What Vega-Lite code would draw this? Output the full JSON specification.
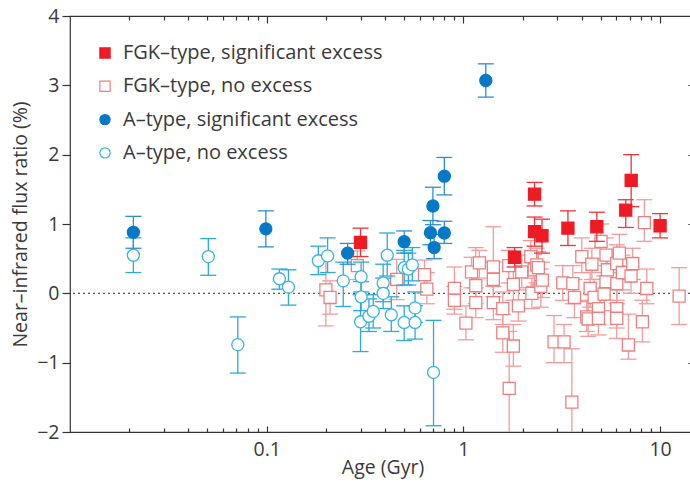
{
  "$schema": "https://vega.github.io/schema/vega-lite/v6.json",
  "autosize": {"type": "none"},
  "width": 625,
  "height": 416,
  "padding": {"left": 70, "top": 16, "right": 0, "bottom": 52},
  "background": "white",
  "config": {
    "font": "Open Sans",
    "view": {"stroke": "#333", "strokeWidth": 1.2},
    "axis": {"labelFont": "Open Sans", "titleFont": "Open Sans", "labelFontSize": 19.5, "titleFontSize": 19.5, "labelFontWeight": 400, "titleFontWeight": 400, "labelColor": "#3a3a3a", "titleColor": "#3a3a3a", "tickColor": "#333", "tickWidth": 1.2, "domain": false, "grid": false},
    "legend": {"labelFont": "Open Sans", "labelFontSize": 20, "labelFontWeight": 400, "labelColor": "#3a3a3a", "padding": 0, "symbolStrokeWidth": 1.2, "labelLimit": 0}
  },
  "data": {"values": [
    {"t":"Fn","age":0.200,"v":0.05,"lo":-0.47,"hi":0.55},
    {"t":"Fn","age":0.210,"v":-0.06,"lo":-0.30,"hi":0.18},
    {"t":"Fn","age":0.289,"v":0.40,"lo":0.20,"hi":0.61},
    {"t":"Fn","age":0.458,"v":0.20,"lo":-0.09,"hi":0.49},
    {"t":"Fn","age":0.634,"v":0.27,"lo":0.00,"hi":0.48},
    {"t":"Fn","age":0.652,"v":0.06,"lo":-0.15,"hi":0.30},
    {"t":"Fn","age":0.900,"v":0.07,"lo":-0.23,"hi":0.38},
    {"t":"Fn","age":0.900,"v":-0.10,"lo":-0.30,"hi":0.10},
    {"t":"Fn","age":1.03,"v":-0.43,"lo":-0.67,"hi":-0.18},
    {"t":"Fn","age":1.10,"v":0.31,"lo":0.08,"hi":0.52},
    {"t":"Fn","age":1.156,"v":0.11,"lo":-0.15,"hi":0.66},
    {"t":"Fn","age":1.156,"v":-0.135,"lo":-0.35,"hi":0.08},
    {"t":"Fn","age":1.206,"v":0.44,"lo":0.22,"hi":0.62},
    {"t":"Fn","age":1.42,"v":0.38,"lo":0.10,"hi":0.96},
    {"t":"Fn","age":1.42,"v":0.20,"lo":-0.05,"hi":0.45},
    {"t":"Fn","age":1.42,"v":-0.135,"lo":-0.38,"hi":0.10},
    {"t":"Fn","age":1.586,"v":-0.22,"lo":-0.45,"hi":0.02},
    {"t":"Fn","age":1.586,"v":-0.57,"lo":-0.85,"hi":-0.30},
    {"t":"Fn","age":1.71,"v":-1.37,"lo":-2.3,"hi":-0.55},
    {"t":"Fn","age":1.70,"v":0.40,"lo":0.15,"hi":0.62},
    {"t":"Fn","age":1.795,"v":0.13,"lo":-0.10,"hi":0.40},
    {"t":"Fn","age":1.795,"v":-0.76,"lo":-1.05,"hi":-0.45},
    {"t":"Fn","age":1.904,"v":-0.18,"lo":-0.40,"hi":0.05},
    {"t":"Fn","age":1.98,"v":0.31,"lo":0.08,"hi":0.55},
    {"t":"Fn","age":2.20,"v":0.53,"lo":0.30,"hi":0.76},
    {"t":"Fn","age":2.23,"v":0.00,"lo":-0.22,"hi":0.22},
    {"t":"Fn","age":2.29,"v":0.34,"lo":0.10,"hi":0.56},
    {"t":"Fn","age":2.36,"v":0.41,"lo":0.15,"hi":0.65},
    {"t":"Fn","age":2.405,"v":0.37,"lo":0.12,"hi":0.60},
    {"t":"Fn","age":2.475,"v":0.10,"lo":-0.20,"hi":0.35},
    {"t":"Fn","age":2.52,"v":0.19,"lo":-0.06,"hi":0.45},
    {"t":"Fn","age":2.89,"v":-0.70,"lo":-1.00,"hi":-0.32},
    {"t":"Fn","age":3.20,"v":0.15,"lo":-0.10,"hi":0.40},
    {"t":"Fn","age":3.25,"v":-0.70,"lo":-1.00,"hi":-0.45},
    {"t":"Fn","age":3.56,"v":-1.57,"lo":-2.3,"hi":-0.80},
    {"t":"Fn","age":3.60,"v":0.14,"lo":-0.15,"hi":0.40},
    {"t":"Fn","age":3.67,"v":-0.06,"lo":-0.35,"hi":0.20},
    {"t":"Fn","age":4.00,"v":0.53,"lo":0.30,"hi":0.80},
    {"t":"Fn","age":4.24,"v":-0.34,"lo":-0.55,"hi":-0.10},
    {"t":"Fn","age":4.31,"v":-0.37,"lo":-0.62,"hi":-0.12},
    {"t":"Fn","age":4.41,"v":0.07,"lo":-0.20,"hi":0.30},
    {"t":"Fn","age":4.50,"v":0.42,"lo":0.20,"hi":0.65},
    {"t":"Fn","age":4.62,"v":-0.06,"lo":-0.30,"hi":0.20},
    {"t":"Fn","age":4.86,"v":-0.22,"lo":-0.45,"hi":0.00},
    {"t":"Fn","age":4.86,"v":-0.36,"lo":-0.60,"hi":-0.10},
    {"t":"Fn","age":5.01,"v":0.75,"lo":0.50,"hi":1.00},
    {"t":"Fn","age":5.19,"v":-0.01,"lo":-0.25,"hi":0.25},
    {"t":"Fn","age":5.31,"v":0.55,"lo":0.30,"hi":0.80},
    {"t":"Fn","age":5.31,"v":0.17,"lo":-0.10,"hi":0.40},
    {"t":"Fn","age":5.40,"v":0.34,"lo":0.10,"hi":0.60},
    {"t":"Fn","age":6.02,"v":0.43,"lo":0.20,"hi":0.70},
    {"t":"Fn","age":6.02,"v":0.14,"lo":-0.15,"hi":0.40},
    {"t":"Fn","age":6.02,"v":-0.22,"lo":-0.50,"hi":0.05},
    {"t":"Fn","age":6.02,"v":-0.36,"lo":-0.65,"hi":-0.10},
    {"t":"Fn","age":6.21,"v":0.58,"lo":0.30,"hi":0.85},
    {"t":"Fn","age":6.43,"v":0.30,"lo":0.05,"hi":0.55},
    {"t":"Fn","age":6.90,"v":-0.745,"lo":-0.95,"hi":-0.30},
    {"t":"Fn","age":7.12,"v":0.25,"lo":0.00,"hi":0.50},
    {"t":"Fn","age":7.26,"v":0.43,"lo":0.20,"hi":0.65},
    {"t":"Fn","age":8.13,"v":-0.41,"lo":-0.70,"hi":-0.10},
    {"t":"Fn","age":8.32,"v":1.02,"lo":0.75,"hi":1.35},
    {"t":"Fn","age":8.56,"v":0.07,"lo":-0.15,"hi":0.35},
    {"t":"Fn","age":12.5,"v":-0.04,"lo":-0.45,"hi":0.37},
    {"t":"An","age":0.021,"v":0.55,"lo":0.30,"hi":0.80},
    {"t":"An","age":0.0505,"v":0.53,"lo":0.26,"hi":0.79},
    {"t":"An","age":0.0713,"v":-0.74,"lo":-1.15,"hi":-0.34},
    {"t":"An","age":0.116,"v":0.21,"lo":0.06,"hi":0.35},
    {"t":"An","age":0.129,"v":0.09,"lo":-0.17,"hi":0.34},
    {"t":"An","age":0.183,"v":0.47,"lo":0.27,"hi":0.68},
    {"t":"An","age":0.204,"v":0.54,"lo":0.30,"hi":0.80},
    {"t":"An","age":0.245,"v":0.18,"lo":-0.19,"hi":0.45},
    {"t":"An","age":0.302,"v":0.24,"lo":0.02,"hi":0.45},
    {"t":"An","age":0.302,"v":-0.05,"lo":-0.25,"hi":0.17},
    {"t":"An","age":0.300,"v":-0.41,"lo":-0.84,"hi":-0.02},
    {"t":"An","age":0.331,"v":-0.33,"lo":-0.55,"hi":-0.08},
    {"t":"An","age":0.348,"v":-0.26,"lo":-0.50,"hi":-0.02},
    {"t":"An","age":0.391,"v":0.15,"lo":-0.12,"hi":0.42},
    {"t":"An","age":0.391,"v":0.00,"lo":-0.22,"hi":0.22},
    {"t":"An","age":0.41,"v":0.55,"lo":0.25,"hi":0.87},
    {"t":"An","age":0.43,"v":-0.31,"lo":-0.55,"hi":-0.05},
    {"t":"An","age":0.50,"v":-0.42,"lo":-0.68,"hi":-0.18},
    {"t":"An","age":0.50,"v":0.37,"lo":0.12,"hi":0.62},
    {"t":"An","age":0.525,"v":0.35,"lo":0.12,"hi":0.58},
    {"t":"An","age":0.55,"v":0.41,"lo":0.18,"hi":0.66},
    {"t":"An","age":0.568,"v":-0.21,"lo":-0.42,"hi":0.02},
    {"t":"An","age":0.568,"v":-0.42,"lo":-0.66,"hi":-0.18},
    {"t":"An","age":0.705,"v":-1.14,"lo":-1.91,"hi":-0.39},
    {"t":"As","age":0.021,"v":0.88,"lo":0.65,"hi":1.11},
    {"t":"As","age":0.099,"v":0.93,"lo":0.67,"hi":1.19},
    {"t":"As","age":0.258,"v":0.58,"lo":0.42,"hi":0.72},
    {"t":"As","age":0.50,"v":0.745,"lo":0.58,"hi":0.90},
    {"t":"As","age":0.68,"v":0.875,"lo":0.70,"hi":1.05},
    {"t":"As","age":0.70,"v":1.26,"lo":0.99,"hi":1.53},
    {"t":"As","age":0.71,"v":0.66,"lo":0.50,"hi":0.85},
    {"t":"As","age":0.80,"v":1.69,"lo":1.42,"hi":1.96},
    {"t":"As","age":0.80,"v":0.87,"lo":0.72,"hi":1.04},
    {"t":"As","age":1.30,"v":3.07,"lo":2.83,"hi":3.31},
    {"t":"Fs","age":0.30,"v":0.735,"lo":0.53,"hi":0.94},
    {"t":"Fs","age":1.82,"v":0.52,"lo":0.38,"hi":0.66},
    {"t":"Fs","age":2.30,"v":1.43,"lo":1.26,"hi":1.60},
    {"t":"Fs","age":2.30,"v":0.89,"lo":0.68,"hi":1.10},
    {"t":"Fs","age":2.51,"v":0.83,"lo":0.58,"hi":1.07},
    {"t":"Fs","age":3.40,"v":0.94,"lo":0.69,"hi":1.19},
    {"t":"Fs","age":4.77,"v":0.96,"lo":0.75,"hi":1.17},
    {"t":"Fs","age":6.69,"v":1.20,"lo":0.95,"hi":1.35},
    {"t":"Fs","age":7.13,"v":1.63,"lo":1.25,"hi":2.00},
    {"t":"Fs","age":10.0,"v":0.975,"lo":0.80,"hi":1.15}
  ]},
  "resolve": {"axis": {"x": "independent", "y": "independent"}},
  "layer": [
    {
      "data": {"values": [{"z": 0}]},
      "mark": {"type": "rule", "strokeDash": [2, 3], "color": "#555", "strokeWidth": 1.3},
      "encoding": {"y": {"field": "z", "type": "quantitative", "scale": {"domain": [-2, 4], "nice": false, "zero": false}, "axis": null}}
    },
    {
      "transform": [{"filter": "datum.t == 'Fn'"}],
      "mark": {"type": "rule", "color": "#f29c9c", "strokeWidth": 1.3, "clip": true},
      "encoding": {
        "x": {"field": "age", "type": "quantitative", "scale": {"type": "log", "domain": [0.01, 15.05], "nice": false}, "axis": {"orient": "bottom", "values": [0.1, 1, 10], "format": "~g", "ticks": false, "labelPadding": 8, "title": "Age (Gyr)", "titlePadding": 0}},
        "y": {"field": "lo", "type": "quantitative", "scale": {"domain": [-2, 4], "nice": false, "zero": false}, "axis": {"orient": "left", "values": [-2, -1, 0, 1, 2, 3, 4], "format": "d", "tickSize": 8, "labelPadding": 3, "title": "Near–infrared flux ratio (%)", "titlePadding": 6}},
        "y2": {"field": "hi"}
      }
    },
    {
      "transform": [{"filter": "datum.t == 'Fn'"}],
      "mark": {"type": "tick", "orient": "horizontal", "color": "#f29c9c", "size": 16, "thickness": 1.3, "opacity": 1, "clip": true},
      "encoding": {
        "x": {"field": "age", "type": "quantitative", "scale": {"type": "log", "domain": [0.01, 15.05], "nice": false}, "axis": {"orient": "top", "offset": -7, "tickSize": 7, "labels": false, "title": null, "values": [0.1, 1, 10]}},
        "y": {"field": "lo", "type": "quantitative", "scale": {"domain": [-2, 4], "nice": false, "zero": false}, "axis": {"orient": "right", "offset": -7, "tickSize": 7, "labels": false, "title": null, "values": [-2, -1, 0, 1, 2, 3, 4]}}
      }
    },
    {
      "transform": [{"filter": "datum.t == 'Fn'"}],
      "mark": {"type": "tick", "orient": "horizontal", "color": "#f29c9c", "size": 16, "thickness": 1.3, "opacity": 1, "clip": true},
      "encoding": {
        "x": {"field": "age", "type": "quantitative", "scale": {"type": "log", "domain": [0.01, 15.05], "nice": false}, "axis": {"orient": "bottom", "offset": -6, "tickSize": 6, "labels": false, "title": null, "values": [0.1, 1, 10]}},
        "y": {"field": "hi", "type": "quantitative", "scale": {"domain": [-2, 4], "nice": false, "zero": false}, "axis": null}
      }
    },
    {
      "transform": [{"filter": "datum.t == 'Fn'"}],
      "mark": {"type": "point", "size": 145, "strokeWidth": 1.3, "opacity": 1, "fillOpacity": 1},
      "encoding": {
        "x": {"field": "age", "type": "quantitative", "scale": {"type": "log", "domain": [0.01, 15.05], "nice": false}, "axis": {"orient": "bottom", "offset": -4, "tickSize": 4, "labels": false, "title": null, "values": [0.02, 0.03, 0.04, 0.05, 0.06, 0.07, 0.08, 0.09, 0.2, 0.3, 0.4, 0.5, 0.6, 0.7, 0.8, 0.9, 2, 3, 4, 5, 6, 7, 8, 9]}},
        "y": {"field": "v", "type": "quantitative", "scale": {"domain": [-2, 4], "nice": false, "zero": false}, "axis": null},
        "fill": {"field": "t", "type": "nominal", "scale": {"domain": ["Fs", "Fn", "As", "An"], "range": ["#ed1c24", "#ffffff", "#0579c6", "#ffffff"]}, "legend": {"title": null, "orient": "none", "legendX": 25, "legendY": 27, "rowPadding": 13.3, "labelOffset": 8, "symbolSize": 105, "labelExpr": "datum.label == 'Fs' ? 'FGK–type, significant excess' : datum.label == 'Fn' ? 'FGK–type, no excess' : datum.label == 'As' ? 'A–type, significant excess' : 'A–type, no excess'"}},
        "stroke": {"field": "t", "type": "nominal", "scale": {"domain": ["Fs", "Fn", "As", "An"], "range": ["#ed1c24", "#ef7f7f", "#0579c6", "#36b2e8"]}, "legend": {"title": null, "orient": "none", "legendX": 25, "legendY": 27, "rowPadding": 13.3, "labelOffset": 8, "symbolSize": 105, "labelExpr": "datum.label == 'Fs' ? 'FGK–type, significant excess' : datum.label == 'Fn' ? 'FGK–type, no excess' : datum.label == 'As' ? 'A–type, significant excess' : 'A–type, no excess'"}},
        "shape": {"field": "t", "type": "nominal", "scale": {"domain": ["Fs", "Fn", "As", "An"], "range": ["square", "square", "circle", "circle"]}, "legend": {"title": null, "orient": "none", "legendX": 25, "legendY": 27, "rowPadding": 13.3, "labelOffset": 8, "symbolSize": 105, "labelExpr": "datum.label == 'Fs' ? 'FGK–type, significant excess' : datum.label == 'Fn' ? 'FGK–type, no excess' : datum.label == 'As' ? 'A–type, significant excess' : 'A–type, no excess'"}}
      }
    },
    {
      "transform": [{"filter": "datum.t == 'An'"}],
      "mark": {"type": "rule", "color": "#2aa9e2", "strokeWidth": 1.3, "clip": true},
      "encoding": {
        "x": {"field": "age", "type": "quantitative", "scale": {"type": "log", "domain": [0.01, 15.05], "nice": false}, "axis": {"orient": "top", "offset": -4, "tickSize": 4, "labels": false, "title": null, "values": [0.02, 0.03, 0.04, 0.05, 0.06, 0.07, 0.08, 0.09, 0.2, 0.3, 0.4, 0.5, 0.6, 0.7, 0.8, 0.9, 2, 3, 4, 5, 6, 7, 8, 9]}},
        "y": {"field": "lo", "type": "quantitative", "scale": {"domain": [-2, 4], "nice": false, "zero": false}, "axis": null},
        "y2": {"field": "hi"}
      }
    },
    {
      "transform": [{"filter": "datum.t == 'An'"}],
      "mark": {"type": "tick", "orient": "horizontal", "color": "#2aa9e2", "size": 16, "thickness": 1.3, "opacity": 1, "clip": true},
      "encoding": {
        "x": {"field": "age", "type": "quantitative", "scale": {"type": "log", "domain": [0.01, 15.05], "nice": false}, "axis": null},
        "y": {"field": "lo", "type": "quantitative", "scale": {"domain": [-2, 4], "nice": false, "zero": false}, "axis": null}
      }
    },
    {
      "transform": [{"filter": "datum.t == 'An'"}],
      "mark": {"type": "tick", "orient": "horizontal", "color": "#2aa9e2", "size": 16, "thickness": 1.3, "opacity": 1, "clip": true},
      "encoding": {
        "x": {"field": "age", "type": "quantitative", "scale": {"type": "log", "domain": [0.01, 15.05], "nice": false}, "axis": null},
        "y": {"field": "hi", "type": "quantitative", "scale": {"domain": [-2, 4], "nice": false, "zero": false}, "axis": null}
      }
    },
    {
      "transform": [{"filter": "datum.t == 'An'"}],
      "mark": {"type": "point", "size": 145, "strokeWidth": 1.3, "opacity": 1, "fillOpacity": 1},
      "encoding": {
        "x": {"field": "age", "type": "quantitative", "scale": {"type": "log", "domain": [0.01, 15.05], "nice": false}, "axis": null},
        "y": {"field": "v", "type": "quantitative", "scale": {"domain": [-2, 4], "nice": false, "zero": false}, "axis": null},
        "fill": {"field": "t", "type": "nominal"},
        "stroke": {"field": "t", "type": "nominal"},
        "shape": {"field": "t", "type": "nominal"}
      }
    },
    {
      "transform": [{"filter": "datum.t == 'As'"}],
      "mark": {"type": "rule", "color": "#2b8fd2", "strokeWidth": 1.3, "clip": true},
      "encoding": {
        "x": {"field": "age", "type": "quantitative", "scale": {"type": "log", "domain": [0.01, 15.05], "nice": false}, "axis": null},
        "y": {"field": "lo", "type": "quantitative", "scale": {"domain": [-2, 4], "nice": false, "zero": false}, "axis": null},
        "y2": {"field": "hi"}
      }
    },
    {
      "transform": [{"filter": "datum.t == 'As'"}],
      "mark": {"type": "tick", "orient": "horizontal", "color": "#2b8fd2", "size": 16, "thickness": 1.3, "opacity": 1, "clip": true},
      "encoding": {
        "x": {"field": "age", "type": "quantitative", "scale": {"type": "log", "domain": [0.01, 15.05], "nice": false}, "axis": null},
        "y": {"field": "lo", "type": "quantitative", "scale": {"domain": [-2, 4], "nice": false, "zero": false}, "axis": null}
      }
    },
    {
      "transform": [{"filter": "datum.t == 'As'"}],
      "mark": {"type": "tick", "orient": "horizontal", "color": "#2b8fd2", "size": 16, "thickness": 1.3, "opacity": 1, "clip": true},
      "encoding": {
        "x": {"field": "age", "type": "quantitative", "scale": {"type": "log", "domain": [0.01, 15.05], "nice": false}, "axis": null},
        "y": {"field": "hi", "type": "quantitative", "scale": {"domain": [-2, 4], "nice": false, "zero": false}, "axis": null}
      }
    },
    {
      "transform": [{"filter": "datum.t == 'As'"}],
      "mark": {"type": "point", "size": 145, "strokeWidth": 1.3, "opacity": 1, "fillOpacity": 1},
      "encoding": {
        "x": {"field": "age", "type": "quantitative", "scale": {"type": "log", "domain": [0.01, 15.05], "nice": false}, "axis": null},
        "y": {"field": "v", "type": "quantitative", "scale": {"domain": [-2, 4], "nice": false, "zero": false}, "axis": null},
        "fill": {"field": "t", "type": "nominal"},
        "stroke": {"field": "t", "type": "nominal"},
        "shape": {"field": "t", "type": "nominal"}
      }
    },
    {
      "transform": [{"filter": "datum.t == 'Fs'"}],
      "mark": {"type": "rule", "color": "#ee3439", "strokeWidth": 1.3, "clip": true},
      "encoding": {
        "x": {"field": "age", "type": "quantitative", "scale": {"type": "log", "domain": [0.01, 15.05], "nice": false}, "axis": null},
        "y": {"field": "lo", "type": "quantitative", "scale": {"domain": [-2, 4], "nice": false, "zero": false}, "axis": null},
        "y2": {"field": "hi"}
      }
    },
    {
      "transform": [{"filter": "datum.t == 'Fs'"}],
      "mark": {"type": "tick", "orient": "horizontal", "color": "#ee3439", "size": 16, "thickness": 1.3, "opacity": 1, "clip": true},
      "encoding": {
        "x": {"field": "age", "type": "quantitative", "scale": {"type": "log", "domain": [0.01, 15.05], "nice": false}, "axis": null},
        "y": {"field": "lo", "type": "quantitative", "scale": {"domain": [-2, 4], "nice": false, "zero": false}, "axis": null}
      }
    },
    {
      "transform": [{"filter": "datum.t == 'Fs'"}],
      "mark": {"type": "tick", "orient": "horizontal", "color": "#ee3439", "size": 16, "thickness": 1.3, "opacity": 1, "clip": true},
      "encoding": {
        "x": {"field": "age", "type": "quantitative", "scale": {"type": "log", "domain": [0.01, 15.05], "nice": false}, "axis": null},
        "y": {"field": "hi", "type": "quantitative", "scale": {"domain": [-2, 4], "nice": false, "zero": false}, "axis": null}
      }
    },
    {
      "transform": [{"filter": "datum.t == 'Fs'"}],
      "mark": {"type": "point", "size": 145, "strokeWidth": 1.3, "opacity": 1, "fillOpacity": 1},
      "encoding": {
        "x": {"field": "age", "type": "quantitative", "scale": {"type": "log", "domain": [0.01, 15.05], "nice": false}, "axis": null},
        "y": {"field": "v", "type": "quantitative", "scale": {"domain": [-2, 4], "nice": false, "zero": false}, "axis": null},
        "fill": {"field": "t", "type": "nominal"},
        "stroke": {"field": "t", "type": "nominal"},
        "shape": {"field": "t", "type": "nominal"}
      }
    }
  ]
}
